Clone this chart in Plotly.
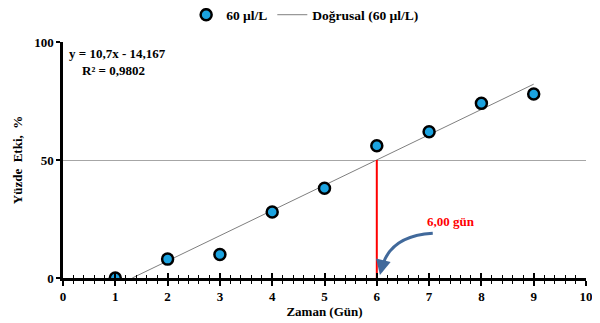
import plotly.graph_objects as go

# Data
days = [1, 2, 3, 4, 5, 6, 7, 8, 9]
effect = [0, 8, 10, 28, 38, 56, 62, 74, 78]
slope = 10.7
intercept = -14.167
r2_text = "R² = 0,9802"
eq_text = "y = 10,7x - 14,167"
target_effect = 50
result_label = "6,00 gün"
series_name = "60 µl/L"
trend_name = "Doğrusal (60 µl/L)"
x_ticks = list(range(0, 11))
y_ticks = [0, 50, 100]

FONT = "Liberation Serif"

x_start = -intercept / slope
x_end = max(days)
x_target = round((target_effect - intercept) / slope, 2)

fig = go.Figure()

fig.add_trace(go.Scatter(
    x=[x_start, x_end], y=[slope * x_start + intercept, slope * x_end + intercept],
    mode="lines", name=trend_name, line=dict(color="#7f7f7f", width=1),
))
fig.add_trace(go.Scatter(
    x=days, y=effect, mode="markers", name=series_name,
    marker=dict(size=11, color="#1ba3e0", line=dict(color="black", width=2.5)),
))
# invisible trace for overlay axis (inside ticks)
fig.add_trace(go.Scatter(x=[0, 10], y=[0, 0], xaxis="x2", mode="markers",
                         marker=dict(opacity=0), showlegend=False, hoverinfo="skip"))

# red vertical line at target
fig.add_trace(go.Scatter(x=[x_target, x_target], y=[0, target_effect], mode="lines",
                         line=dict(color="#ff0000", width=2), showlegend=False, hoverinfo="skip"))

fig.update_layout(
    width=592, height=315,
    margin=dict(l=55, r=14, t=34, b=45, autoexpand=False),
    paper_bgcolor="white", plot_bgcolor="white",
    font=dict(family=FONT, size=13, color="black"),
    legend=dict(orientation="h", x=0.463, xanchor="center", yref="container", y=0.978, yanchor="middle",
                font=dict(family=FONT, size=13.5, color="black", weight="bold"),
                traceorder="reversed", itemwidth=30),
    xaxis=dict(range=[0, 10], tickvals=x_ticks, ticks="outside", ticklen=5, tickwidth=1.5,
               tickcolor="black", showline=True, linecolor="black", linewidth=2.5,
               showgrid=False, zeroline=False, automargin=False,
               minor=dict(dtick=0.2, ticks="outside", ticklen=3, tickwidth=1.2, tickcolor="black"),
               tickfont=dict(family=FONT, size=13, weight="bold"),
               title=dict(text="<b>Zaman (Gün)</b>", font=dict(family=FONT, size=13), standoff=0)),
    xaxis2=dict(range=[0, 10], overlaying="x", anchor="y", side="bottom", tickvals=x_ticks,
                ticks="inside", ticklen=5, tickwidth=1.5, tickcolor="black", showticklabels=False,
                showgrid=False, zeroline=False, showline=False,
                minor=dict(dtick=0.2, ticks="inside", ticklen=3, tickwidth=1.2, tickcolor="black")),
    yaxis=dict(range=[0, 100], tickvals=y_ticks, ticks="outside", ticklen=4, tickwidth=1.5,
               tickcolor="black", showline=True, linecolor="black", linewidth=2.5,
               showgrid=True, gridcolor="#a6a6a6", gridwidth=1, zeroline=False, automargin=False,
               tickfont=dict(family=FONT, size=13, weight="bold"),
               title=dict(text="<b>Yüzde  Etki,  %</b>", font=dict(family=FONT, size=13), standoff=9)),
)

# Equation text
fig.add_annotation(xref="paper", yref="paper", x=0.008, y=0.99, xanchor="left", yanchor="top",
                   text="<b>" + eq_text + "<br>    " + r2_text + "</b>", showarrow=False, align="left",
                   font=dict(family=FONT, size=13, color="black"))

# Result label
fig.add_annotation(x=x_target + 1.42, y=24, text="<b>" + result_label + "</b>", showarrow=False,
                   font=dict(family=FONT, size=13, color="#ff0000"))

# Curved arrow
arrow_color = "#41699b"
fig.add_shape(type="path", xref="x", yref="y",
              path=f"M {x_target+1.07},19 Q {x_target+0.3},18 {x_target+0.12},6",
              line=dict(color=arrow_color, width=3))
fig.add_annotation(x=x_target + 0.06, y=1.3, ax=x_target + 0.12, ay=7, axref="x", ayref="y",
                   xref="x", yref="y", text="", showarrow=True, arrowhead=2, arrowsize=1,
                   arrowwidth=3, arrowcolor=arrow_color)

fig.write_html("out.html")
